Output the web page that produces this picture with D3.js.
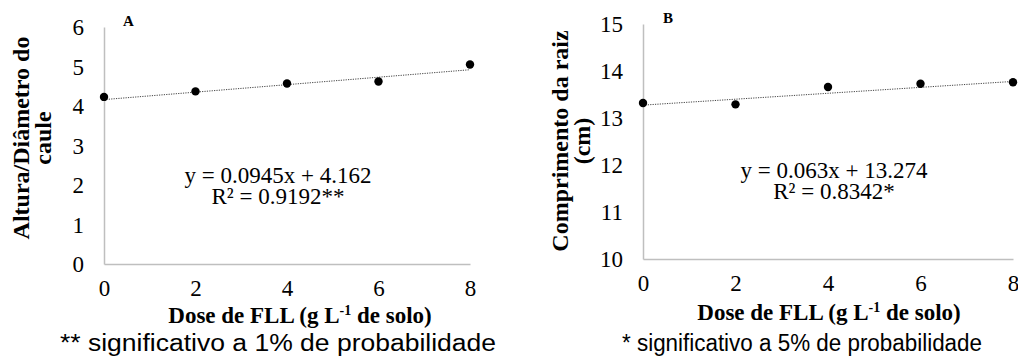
<!DOCTYPE html>
<html>
<head>
<meta charset="utf-8">
<script src="https://cdn.jsdelivr.net/npm/d3@7"></script>
<style>
  body { margin: 0; background: #fff; }
  svg { display: block; }
</style>
</head>
<body>
<svg id="chart" width="1018" height="356"></svg>
<script>
// doses (g L-1 de solo)
var doses = [0, 2, 4, 6, 8];
var xTicks = [0, 2, 4, 6, 8];

// panel A: altura / diametro do caule
var alturaDiametro = [4.23, 4.37, 4.57, 4.62, 5.05];
var trendA = [0.0945, 4.162];   // slope, intercept
var yTicksA = [0, 1, 2, 3, 4, 5, 6];

// panel B: comprimento da raiz (cm)
var comprimentoRaiz = [13.32, 13.29, 13.66, 13.73, 13.76];
var trendB = [0.063, 13.274];
var yTicksB = [10, 11, 12, 13, 14, 15];

var serif = '"Liberation Serif", "Times New Roman", serif';
var svg = d3.select('#chart');

function panel(opts) {
    var g = svg.append('g');
    var x = d3.scaleLinear().domain([0, 8]).range([opts.left, opts.right]);
    var y = d3.scaleLinear().domain(opts.yDomain).range([opts.bottom, opts.top]);

    var xAxis = g.append('g')
        .attr('transform', 'translate(0,' + opts.bottom + ')')
        .call(d3.axisBottom(x).tickValues(xTicks).tickFormat(d3.format('d')).tickSize(0).tickPadding(16));
    var yAxis = g.append('g')
        .attr('transform', 'translate(' + opts.left + ',0)')
        .call(d3.axisLeft(y).tickValues(opts.yTicks).tickFormat(d3.format('d')).tickSize(0).tickPadding(20));
    g.selectAll('.domain').attr('stroke', '#bfbfbf').attr('stroke-width', 1.5);
    xAxis.attr('font-family', serif).attr('font-size', 23);
    yAxis.attr('font-family', serif).attr('font-size', 23);
    g.selectAll('.tick text')
        .style('font-family', serif).style('font-size', '23px').attr('fill', '#000');
    xAxis.selectAll('.tick text').attr('dy', '0.71em');
    yAxis.selectAll('.tick text').attr('dy', '0.34em');

    // trend line
    var t = opts.trend;
    g.append('line')
        .attr('x1', x(0)).attr('y1', y(t[1]))
        .attr('x2', x(8)).attr('y2', y(t[0] * 8 + t[1]))
        .attr('stroke', '#444').attr('stroke-width', 1)
        .attr('stroke-dasharray', '1.2,1.2');

    g.selectAll('circle.pt').data(opts.values).enter()
        .append('circle').attr('class', 'pt')
        .attr('cx', function(d, i) { return x(doses[i]); })
        .attr('cy', function(d) { return y(d); })
        .attr('r', 4.2).attr('fill', '#000');

    // panel letter
    g.append('text').text(opts.letter)
        .attr('x', opts.letterX).attr('y', opts.top - 1)
        .style('font-family', serif).attr('font-weight', 'bold')
        .attr('font-size', 15);

    // y title, two lines rotated
    var yt = g.append('text')
        .attr('transform', 'translate(' + opts.yTitleX + ',' + opts.yTitleY + ') rotate(-90)')
        .attr('text-anchor', 'middle')
        .style('font-family', serif).attr('font-weight', 'bold')
        .attr('font-size', 24);
    yt.append('tspan').attr('x', 0).attr('dy', 0).text(opts.yTitle[0]);
    yt.append('tspan').attr('x', 0).attr('dy', 22).text(opts.yTitle[1]);

    // x title with superscript
    var xt = g.append('text')
        .attr('x', opts.xTitleX).attr('y', opts.xTitleY)
        .attr('text-anchor', 'middle')
        .style('font-family', serif).attr('font-weight', 'bold')
        .attr('font-size', 23);
    xt.append('tspan').text('Dose de FLL (g L');
    xt.append('tspan').attr('dy', -8).attr('font-size', 14).text('-1');
    xt.append('tspan').attr('dy', 8).text(' de solo)');

    // equation
    var eq = g.append('text')
        .attr('text-anchor', 'middle')
        .style('font-family', serif).attr('font-size', 23);
    eq.append('tspan').attr('x', opts.eqX).attr('y', opts.eqY).text(opts.eq[0]);
    eq.append('tspan').attr('x', opts.eqX).attr('y', opts.eqY + 21).text(opts.eq[1]);

    // footnote (stretched to the width it has in the figure)
    g.append('text')
        .attr('x', opts.noteX - opts.noteWidth / 2).attr('y', 351)
        .attr('textLength', opts.noteWidth).attr('lengthAdjust', 'spacingAndGlyphs')
        .style('font-family', '"Liberation Sans", Arial, sans-serif').attr('font-size', 23)
        .text(opts.note);
}

panel({
    left: 104, right: 470, top: 27, bottom: 264,
    yDomain: [0, 6], yTicks: yTicksA, values: alturaDiametro, trend: trendA,
    letter: 'A', letterX: 123,
    yTitle: ['Altura/Diâmetro do', 'caule'], yTitleX: 29, yTitleY: 138,
    xTitleX: 300, xTitleY: 323,
    eq: ['y = 0.0945x + 4.162', 'R² = 0.9192**'], eqX: 278, eqY: 183,
    note: '** significativo a 1% de probabilidade', noteX: 278, noteWidth: 436
});

panel({
    left: 643, right: 1013, top: 24, bottom: 259,
    yDomain: [10, 15], yTicks: yTicksB, values: comprimentoRaiz, trend: trendB,
    letter: 'B', letterX: 663,
    yTitle: ['Comprimento da raiz', '(cm)'], yTitleX: 568, yTitleY: 141,
    xTitleX: 829, xTitleY: 320,
    eq: ['y = 0.063x + 13.274', 'R² = 0.8342*'], eqX: 834, eqY: 178,
    note: '* significativo a 5% de probabilidade', noteX: 802, noteWidth: 360
});
</script>
</body>
</html>
